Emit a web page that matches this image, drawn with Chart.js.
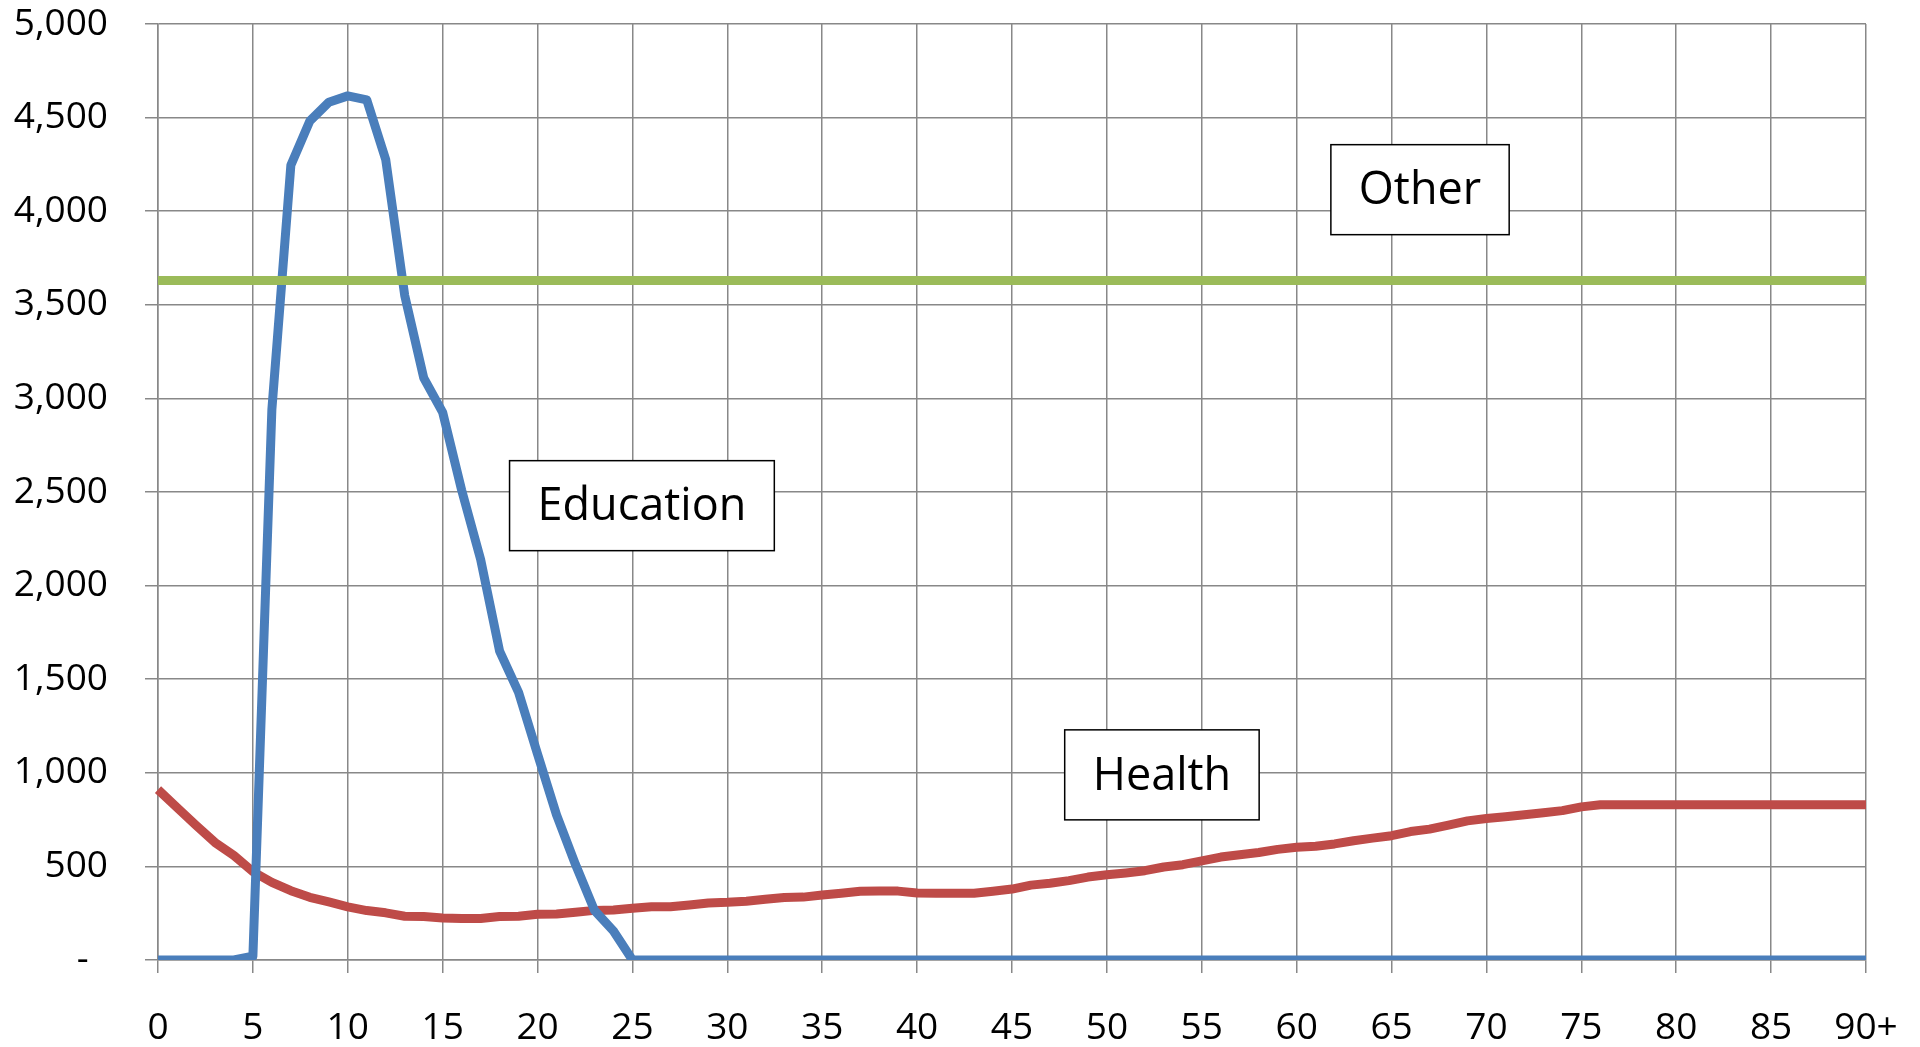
<!DOCTYPE html>
<html>
<head>
<meta charset="utf-8">
<script src="https://cdn.jsdelivr.net/npm/chart.js@4/dist/chart.umd.min.js"></script>
<style>
  body { margin: 0; background: #fff; }
  #wrap { width: 1920px; height: 1047px; position: relative; }
</style>
</head>
<body>
<div id="wrap"><canvas id="myChart"></canvas></div>
<script>
// ages 0 .. 90+
const ages = [
  "0", "1", "2", "3", "4", "5", "6", "7", "8", "9",
  "10", "11", "12", "13", "14", "15", "16", "17", "18", "19",
  "20", "21", "22", "23", "24", "25", "26", "27", "28", "29",
  "30", "31", "32", "33", "34", "35", "36", "37", "38", "39",
  "40", "41", "42", "43", "44", "45", "46", "47", "48", "49",
  "50", "51", "52", "53", "54", "55", "56", "57", "58", "59",
  "60", "61", "62", "63", "64", "65", "66", "67", "68", "69",
  "70", "71", "72", "73", "74", "75", "76", "77", "78", "79",
  "80", "81", "82", "83", "84", "85", "86", "87", "88", "89",
  "90+"
];

const education = [
  0, 0, 0, 0, 0, 20, 2940, 4245, 4482, 4582,
  4616, 4595, 4275, 3550, 3110, 2925, 2510, 2140, 1650, 1430,
  1100, 775, 510, 265, 155, 0, 0, 0, 0, 0,
  0, 0, 0, 0, 0, 0, 0, 0, 0, 0,
  0, 0, 0, 0, 0, 0, 0, 0, 0, 0,
  0, 0, 0, 0, 0, 0, 0, 0, 0, 0,
  0, 0, 0, 0, 0, 0, 0, 0, 0, 0,
  0, 0, 0, 0, 0, 0, 0, 0, 0, 0,
  0, 0, 0, 0, 0, 0, 0, 0, 0, 0,
  0
];

const health = [
  910, 815, 720, 628, 558, 472, 415, 370, 335, 310,
  284, 264, 252, 234, 232, 224, 222, 222, 232, 234,
  244, 246, 255, 265, 267, 276, 284, 285, 294, 305,
  308, 314, 324, 334, 336, 347, 357, 367, 368, 368,
  358, 356, 356, 357, 367, 379, 400, 410, 424, 443,
  455, 465, 477, 497, 509, 530, 550, 562, 574, 591,
  602, 608, 620, 637, 651, 664, 686, 699, 721, 743,
  756, 765, 776, 787, 798, 818, 829, 829, 829, 829,
  829, 829, 829, 829, 829, 829, 829, 829, 829, 829,
  829
];

const other = [
  3630, 3630, 3630, 3630, 3630, 3630, 3630, 3630, 3630, 3630,
  3630, 3630, 3630, 3630, 3630, 3630, 3630, 3630, 3630, 3630,
  3630, 3630, 3630, 3630, 3630, 3630, 3630, 3630, 3630, 3630,
  3630, 3630, 3630, 3630, 3630, 3630, 3630, 3630, 3630, 3630,
  3630, 3630, 3630, 3630, 3630, 3630, 3630, 3630, 3630, 3630,
  3630, 3630, 3630, 3630, 3630, 3630, 3630, 3630, 3630, 3630,
  3630, 3630, 3630, 3630, 3630, 3630, 3630, 3630, 3630, 3630,
  3630, 3630, 3630, 3630, 3630, 3630, 3630, 3630, 3630, 3630,
  3630, 3630, 3630, 3630, 3630, 3630, 3630, 3630, 3630, 3630,
  3630
];

// text boxes, anchored at (age, value)
const noteText = ["Other", "Education", "Health"];
const noteAge = [66.5, 25.5, 52.9];
const noteValue = [4115, 2427, 989];

const gridColor = "#888888";
const font = "'Open Sans', 'DejaVu Sans', sans-serif";

const notesPlugin = {
  id: "notes",
  afterDatasetsDraw(chart) {
    const ctx = chart.ctx;
    const xs = chart.scales.x;
    const ys = chart.scales.y;
    ctx.save();
    ctx.font = "45px " + font;
    ctx.textAlign = "center";
    ctx.textBaseline = "middle";
    for (let i = 0; i < noteText.length; i++) {
      const cx = xs.getPixelForValue(noteAge[i]);
      const cy = ys.getPixelForValue(noteValue[i]);
      const w = ctx.measureText(noteText[i]).width + 56;
      const h = 90;
      ctx.fillStyle = "#fff";
      ctx.fillRect(cx - w / 2, cy - h / 2, w, h);
      ctx.strokeStyle = "#000";
      ctx.lineWidth = 1.5;
      ctx.strokeRect(cx - w / 2, cy - h / 2, w, h);
      ctx.fillStyle = "#000";
      ctx.fillText(noteText[i], cx, cy + 2);
    }
    ctx.restore();
  }
};

const ctx1 = document.getElementById("myChart").getContext("2d");
const myChart = new Chart(ctx1, {
  type: "line",
  data: {
    labels: ages,
    datasets: [
      { label: "Other", data: other, borderColor: "#9BBB59" },
      { label: "Education", data: education, borderColor: "#4A7EBB" },
      { label: "Health", data: health, borderColor: "#BE4B48" }
    ]
  },
  options: {
    responsive: true,
    maintainAspectRatio: false,
    animation: false,
    layout: { padding: { top: 24, right: 54, left: 0, bottom: 0 } },
    elements: {
      line: { borderWidth: 9, tension: 0, borderJoinStyle: "round", fill: false },
      point: { radius: 0, hoverRadius: 0 }
    },
    plugins: {
      legend: { display: false },
      tooltip: { enabled: false }
    },
    scales: {
      x: {
        afterFit(scale) {
          scale.height = 87;
          scale.paddingLeft = 0;
          scale.paddingRight = 0;
        },
        border: { color: gridColor, width: 1.5 },
        grid: {
          color: (c) => (c.index % 5 === 0 ? gridColor : "rgba(0,0,0,0)"),
          lineWidth: 1.5,
          tickLength: 13
        },
        ticks: {
          autoSkip: false,
          maxRotation: 0,
          padding: 33,
          color: "#000",
          font: { family: font, size: 37 },
          callback: function (val, index) {
            return index % 5 === 0 ? ages[index] : "";
          }
        }
      },
      y: {
        min: 0,
        max: 5000,
        afterFit(scale) {
          scale.width = 158;
          scale.paddingTop = 0;
          scale.paddingBottom = 0;
        },
        border: { color: gridColor, width: 1.5 },
        grid: { color: gridColor, lineWidth: 1.5, tickLength: 13 },
        ticks: {
          stepSize: 500,
          padding: 37,
          color: "#000",
          font: { family: font, size: 37 },
          callback: function (v) {
            return v === 0 ? "-  " : v.toLocaleString("en-US");
          }
        }
      }
    }
  },
  plugins: [notesPlugin]
});
</script>
</body>
</html>
